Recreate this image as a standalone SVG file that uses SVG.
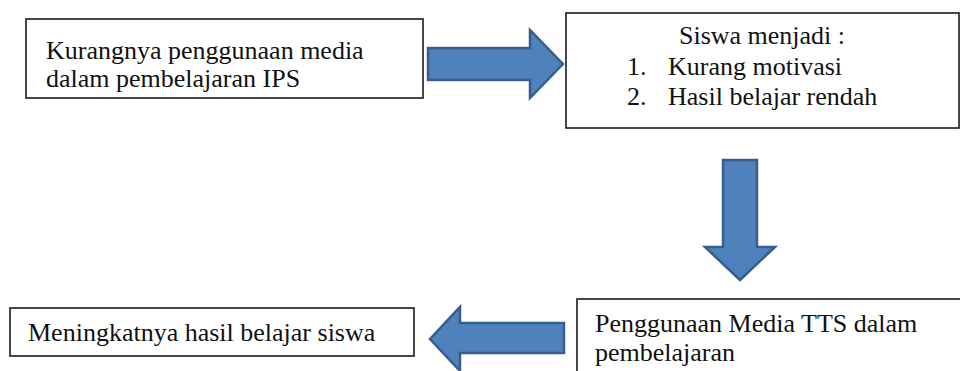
<svg xmlns="http://www.w3.org/2000/svg" width="960" height="371" viewBox="0 0 960 371">
<style>
.box{fill:#fff;stroke:#1a1a1a;stroke-width:1.6}
.arrow{fill:#4F81BD;stroke:#385D8A;stroke-width:2.5;stroke-linejoin:miter}
text{font-family:"Liberation Serif","Times New Roman","DejaVu Serif",serif;font-size:26px;fill:#111}
</style>
<rect width="960" height="371" fill="#fff"/>
<g id="connectors">
<polygon class="arrow" points="428,48 530,48 530,30 563,64 530,98 530,80 428,80"/>
<polygon class="arrow" points="723,160 757,160 757,247 775,247 740,280 705,247 723,247"/>
<polygon class="arrow" points="564,323 460,323 460,307 430,339 460,371 460,353 564,353"/>
</g>
<g id="node1">
<rect class="box" x="26" y="19" width="397" height="79"/>
<text x="46" y="59">Kurangnya penggunaan media</text>
<text x="46" y="87">dalam pembelajaran IPS</text>
</g>
<g id="node2">
<rect class="box" x="566" y="13" width="393" height="115"/>
<text x="762" y="44" text-anchor="middle">Siswa menjadi :</text>
<text x="627" y="75">1.</text>
<text x="668" y="75">Kurang motivasi</text>
<text x="627" y="105">2.</text>
<text x="668" y="105">Hasil belajar rendah</text>
</g>
<g id="node3">
<rect class="box" x="10" y="308" width="404" height="48"/>
<text x="28" y="341">Meningkatnya hasil belajar siswa</text>
</g>
<g id="node4">
<rect class="box" x="577" y="299" width="400" height="90"/>
<text x="595" y="332">Penggunaan Media TTS dalam</text>
<text x="595" y="361">pembelajaran</text>
</g>
</svg>
